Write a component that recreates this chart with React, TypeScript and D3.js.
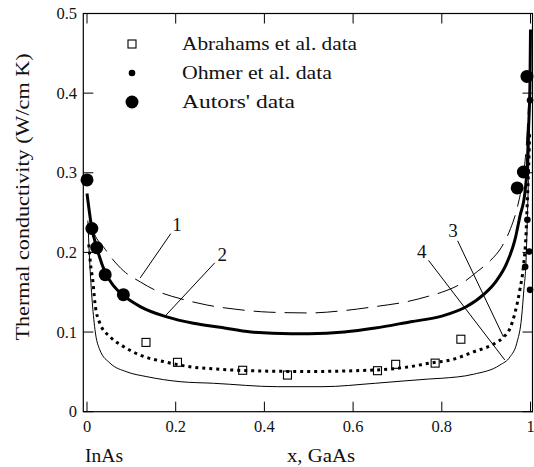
import React, { useRef, useEffect } from "react";
import * as d3 from "d3";

// model curves (x, GaAs fraction -> W/cm K)
const curve1 = [
  [0.003, 0.262], [0.011, 0.232], [0.041, 0.204], [0.082, 0.177], [0.12, 0.163],
  [0.16, 0.151], [0.21, 0.142], [0.27, 0.134], [0.345, 0.128], [0.41, 0.125],
  [0.5, 0.124], [0.58, 0.127], [0.65, 0.132], [0.72, 0.138], [0.77, 0.145],
  [0.8, 0.15], [0.85, 0.163], [0.88, 0.176], [0.91, 0.19], [0.935, 0.207],
  [0.955, 0.23], [0.97, 0.256], [0.982, 0.29], [0.99, 0.33], [0.996, 0.39]
];
const curve2 = [
  [0, 0.274], [0.011, 0.23], [0.022, 0.206], [0.041, 0.175], [0.06, 0.158],
  [0.082, 0.146], [0.12, 0.132], [0.18, 0.119], [0.24, 0.111], [0.3, 0.106],
  [0.37, 0.1], [0.46, 0.098], [0.5, 0.098], [0.58, 0.1], [0.65, 0.105],
  [0.73, 0.113], [0.8, 0.12], [0.856, 0.132], [0.894, 0.147], [0.924, 0.165],
  [0.946, 0.186], [0.965, 0.216], [0.976, 0.245], [0.988, 0.278], [0.993, 0.312],
  [0.996, 0.36], [0.999, 0.42], [1.0, 0.48]
];
const curve3 = [
  [0.004, 0.21], [0.008, 0.185], [0.013, 0.165], [0.018, 0.136], [0.029, 0.111],
  [0.052, 0.094], [0.082, 0.082], [0.12, 0.071], [0.172, 0.063], [0.232, 0.0565],
  [0.292, 0.0535], [0.4, 0.051], [0.5, 0.0505], [0.65, 0.0524], [0.728, 0.0565],
  [0.773, 0.061], [0.82, 0.065], [0.871, 0.075], [0.92, 0.086], [0.94, 0.094],
  [0.954, 0.105], [0.965, 0.124], [0.976, 0.153], [0.984, 0.182], [0.99, 0.224],
  [0.993, 0.266], [0.996, 0.31], [0.998, 0.35]
];
const curve4 = [
  [0.002, 0.24], [0.005, 0.2], [0.011, 0.144], [0.018, 0.103], [0.029, 0.0775],
  [0.052, 0.061], [0.09, 0.05], [0.135, 0.044], [0.21, 0.0377], [0.285, 0.0357],
  [0.43, 0.0314], [0.53, 0.0314], [0.65, 0.0357], [0.77, 0.041], [0.8, 0.042],
  [0.871, 0.047], [0.931, 0.0586], [0.954, 0.069], [0.969, 0.086], [0.98, 0.119],
  [0.985, 0.153], [0.99, 0.19], [0.993, 0.245], [0.996, 0.31], [0.998, 0.38]
];

// measured points
const abrahams = [
  [0.133, 0.087], [0.204, 0.062], [0.351, 0.052], [0.452, 0.046],
  [0.655, 0.0515], [0.696, 0.0595], [0.785, 0.061], [0.843, 0.091]
];
const ohmer = [
  [0.988, 0.182], [0.993, 0.241], [0.997, 0.201], [0.999, 0.153], [0.999, 0.391]
];
const autors = [
  [0, 0.291], [0.011, 0.23], [0.022, 0.206], [0.041, 0.172], [0.082, 0.147],
  [0.97, 0.281], [0.984, 0.301], [0.992, 0.421]
];

// curve labels: label position and the point the leader touches
const notes = [
  { label: "1", tx: 0.203, ty: 0.235, px: 0.12, py: 0.168 },
  { label: "2", tx: 0.305, ty: 0.197, px: 0.176, py: 0.12 },
  { label: "3", tx: 0.825, ty: 0.227, px: 0.939, py: 0.094 },
  { label: "4", tx: 0.755, ty: 0.201, px: 0.942, py: 0.065 }
];

const xTicks = [0, 0.2, 0.4, 0.6, 0.8, 1];
const yTicks = [0, 0.1, 0.2, 0.3, 0.4, 0.5];
const legendItems = ["Abrahams et al. data", "Ohmer et al. data", "Autors' data"];

const W = 534;
const H = 467;
const FONT = "'Liberation Serif', 'Times New Roman', serif";

export default function App() {
  const svgRef = useRef(null);

  useEffect(() => {
    const svg = d3.select(svgRef.current);
    svg.selectAll("*").remove();

    const x = d3.scaleLinear().domain([0, 1]).range([87, 530.5]);
    const y = d3.scaleLinear().domain([0, 0.5]).range([411.7, 13.5]);
    const left = 83.3, right = 532.5;

    const g = svg.append("g");

    // frame
    g.append("rect")
      .attr("x", left).attr("y", y(0.5))
      .attr("width", right - left).attr("height", y(0) - y(0.5))
      .attr("fill", "none").attr("stroke", "#000").attr("stroke-width", 1.2);

    // inward ticks
    xTicks.forEach(t => {
      g.append("line").attr("x1", x(t)).attr("x2", x(t))
        .attr("y1", y(0)).attr("y2", y(0) - 10).attr("stroke", "#000");
      g.append("line").attr("x1", x(t)).attr("x2", x(t))
        .attr("y1", y(0.5)).attr("y2", y(0.5) + 10).attr("stroke", "#000");
      g.append("text").attr("x", x(t)).attr("y", 431.5)
        .attr("text-anchor", "middle").attr("font-size", 16.5)
        .attr("font-family", FONT).attr("fill", "#111").text(String(t));
    });
    yTicks.forEach(t => {
      g.append("line").attr("x1", left).attr("x2", left + 10)
        .attr("y1", y(t)).attr("y2", y(t)).attr("stroke", "#000");
      g.append("line").attr("x1", right).attr("x2", right - 10)
        .attr("y1", y(t)).attr("y2", y(t)).attr("stroke", "#000");
      g.append("text").attr("x", 77).attr("y", y(t) + 5.5)
        .attr("text-anchor", "end").attr("font-size", 16.5)
        .attr("font-family", FONT).attr("fill", "#111").text(String(t));
    });

    // axis titles
    g.append("text").attr("x", 85).attr("y", 462)
      .attr("font-size", 18).attr("font-family", FONT).attr("fill", "#111")
      .attr("textLength", 38).attr("lengthAdjust", "spacingAndGlyphs").text("InAs");
    g.append("text").attr("x", 287).attr("y", 462)
      .attr("font-size", 18).attr("font-family", FONT).attr("fill", "#111")
      .attr("textLength", 68).attr("lengthAdjust", "spacingAndGlyphs").text("x, GaAs");
    g.append("text")
      .attr("transform", "translate(23,197) rotate(-90)")
      .attr("text-anchor", "middle").attr("dy", "0.35em")
      .attr("font-size", 18).attr("font-family", FONT).attr("fill", "#111")
      .attr("textLength", 287).attr("lengthAdjust", "spacingAndGlyphs")
      .text("Thermal conductivity (W/cm K)");

    // curves
    const line = d3.line()
      .x(d => x(d[0]))
      .y(d => y(d[1]))
      .curve(d3.curveMonotoneX);

    const curves = g.append("g").attr("fill", "none").attr("stroke", "#000");
    curves.append("path").attr("d", line(curve1))
      .attr("stroke-width", 1).attr("stroke-dasharray", "22 9");
    curves.append("path").attr("d", line(curve2))
      .attr("stroke-width", 3);
    curves.append("path").attr("d", line(curve3))
      .attr("stroke-width", 3).attr("stroke-dasharray", "3 4");
    curves.append("path").attr("d", line(curve4))
      .attr("stroke-width", 1);

    // leaders and labels
    notes.forEach(n => {
      const lx = x(n.tx), ly = y(n.ty);
      const ex = x(n.px), ey = y(n.py);
      const ang = Math.atan2(ey - ly, ex - lx);
      g.append("line")
        .attr("x1", lx + Math.cos(ang) * 11).attr("y1", ly + Math.sin(ang) * 11)
        .attr("x2", ex).attr("y2", ey)
        .attr("stroke", "#000").attr("stroke-width", 1);
      g.append("text").attr("x", lx).attr("y", ly + 6.5)
        .attr("text-anchor", "middle").attr("font-size", 19)
        .attr("font-family", FONT).attr("fill", "#111").text(n.label);
    });

    // data points
    g.append("g").selectAll("rect")
      .data(abrahams).join("rect")
      .attr("x", d => x(d[0]) - 4).attr("y", d => y(d[1]) - 4)
      .attr("width", 8).attr("height", 8)
      .attr("fill", "none").attr("stroke", "#000").attr("stroke-width", 1.1);
    g.append("g").selectAll("circle")
      .data(ohmer).join("circle")
      .attr("cx", d => x(d[0])).attr("cy", d => y(d[1])).attr("r", 3.3)
      .attr("fill", "#000");
    g.append("g").selectAll("circle")
      .data(autors).join("circle")
      .attr("cx", d => x(d[0])).attr("cy", d => y(d[1])).attr("r", 6.5)
      .attr("fill", "#000");

    // legend
    const rows = [44, 73, 102];
    const widths = [175, 150, 113];
    g.append("rect").attr("x", 128).attr("y", rows[0] - 4)
      .attr("width", 8).attr("height", 8)
      .attr("fill", "none").attr("stroke", "#000").attr("stroke-width", 1.1);
    g.append("circle").attr("cx", 132).attr("cy", rows[1]).attr("r", 3.3).attr("fill", "#000");
    g.append("circle").attr("cx", 132).attr("cy", rows[2]).attr("r", 6.5).attr("fill", "#000");
    legendItems.forEach((t, i) => {
      g.append("text").attr("x", 182).attr("y", rows[i] + 6)
        .attr("font-size", 18).attr("font-family", FONT).attr("fill", "#111")
        .attr("textLength", widths[i]).attr("lengthAdjust", "spacingAndGlyphs")
        .text(t);
    });
  }, []);

  return (
    <svg
      ref={svgRef}
      width={W}
      height={H}
      style={{ position: "absolute", left: 0, top: 0, background: "#fff" }}
    />
  );
}
